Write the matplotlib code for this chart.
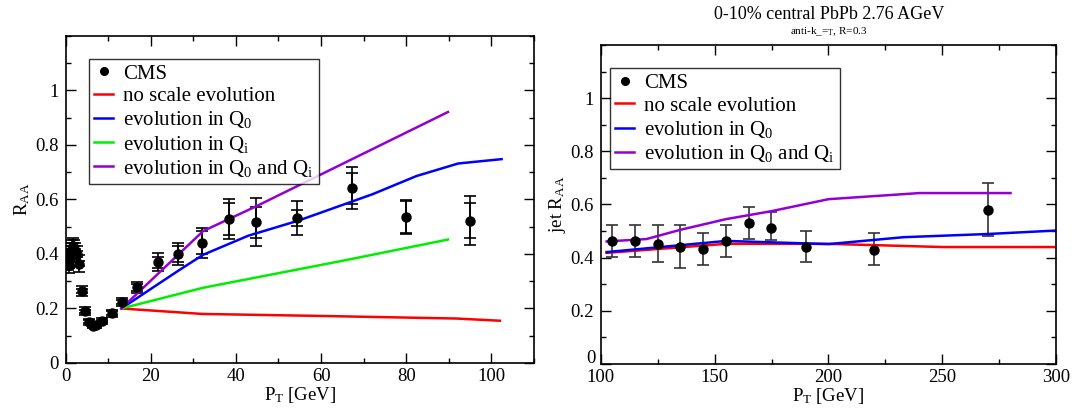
import numpy as np
import matplotlib
matplotlib.use("Agg")
import matplotlib.pyplot as plt
from matplotlib.lines import Line2D

plt.rcParams['font.family'] = ['Liberation Serif', 'DejaVu Serif']
plt.rcParams['mathtext.fontset'] = 'custom'
plt.rcParams['mathtext.rm'] = 'Liberation Serif'
plt.rcParams['mathtext.it'] = 'Liberation Serif:italic'

# left panel: charged hadron R_AA, CMS data
cms_pt = [0.5, 0.7, 0.9, 1.1, 1.3, 1.5, 1.7, 1.9, 2.2, 2.6, 3.2, 3.8, 4.5, 5.5, 6.4, 7.2,
          8.5, 10.8, 13.2, 16.7, 21.6, 26.3, 32.0, 38.4, 44.8, 54.3, 67.2, 79.9, 94.9]
cms_raa = [0.37, 0.36, 0.38, 0.40, 0.41, 0.42, 0.43, 0.42, 0.41, 0.40, 0.365, 0.265, 0.19,
           0.151, 0.137, 0.139, 0.154, 0.183, 0.224, 0.277, 0.369, 0.401, 0.441, 0.528,
           0.517, 0.532, 0.641, 0.536, 0.522]
cms_syst = [0.03, 0.03, 0.03, 0.03, 0.03, 0.03, 0.03, 0.03, 0.03, 0.03, 0.03, 0.018, 0.014,
            0.011, 0.010, 0.010, 0.011, 0.013, 0.016, 0.020, 0.033, 0.040, 0.055, 0.073,
            0.088, 0.062, 0.077, 0.063, 0.090]
cms_stat = [0.01, 0.01, 0.01, 0.01, 0.01, 0.01, 0.01, 0.01, 0.01, 0.01, 0.01, 0.008, 0.006,
            0.005, 0.005, 0.005, 0.005, 0.006, 0.008, 0.012, 0.020, 0.030, 0.042, 0.058,
            0.057, 0.029, 0.056, 0.058, 0.064]

red_pt = [13.1, 32.0, 62.0, 92.0, 102.0]
red_raa = [0.200, 0.180, 0.172, 0.163, 0.155]
blue_pt = [13.1, 26.9, 32.3, 42.9, 54.6, 67.2, 72.2, 82.4, 92.2, 102.4]
blue_raa = [0.200, 0.343, 0.397, 0.467, 0.522, 0.592, 0.620, 0.686, 0.732, 0.748]
green_pt = [13.1, 32.3, 66.0, 89.8]
green_raa = [0.200, 0.276, 0.378, 0.453]
purple_pt = [13.1, 32.3, 44.9, 89.8]
purple_raa = [0.200, 0.484, 0.576, 0.921]

# right panel: jet R_AA
jet_pt = [104.8, 115.1, 124.9, 134.9, 145.0, 154.8, 164.9, 174.9, 190.0, 219.8, 270.0]
jet_raa = [0.461, 0.461, 0.452, 0.440, 0.431, 0.461, 0.531, 0.511, 0.440, 0.430, 0.581]
jet_err_up = [0.060, 0.060, 0.069, 0.081, 0.060, 0.060, 0.059, 0.060, 0.061, 0.061, 0.101]
jet_err_dn = [0.058, 0.058, 0.070, 0.078, 0.060, 0.058, 0.060, 0.045, 0.058, 0.059, 0.098]

jred_pt = [102.5, 155.0, 200.0, 250.0, 300.0]
jred_raa = [0.418, 0.452, 0.452, 0.440, 0.440]
jblue_pt = [102.5, 155.0, 200.0, 233.0, 270.0, 300.0]
jblue_raa = [0.421, 0.463, 0.451, 0.477, 0.489, 0.502]
jpurple_pt = [102.5, 120.0, 135.0, 155.0, 175.0, 200.0, 240.0, 280.0]
jpurple_raa = [0.461, 0.470, 0.505, 0.545, 0.575, 0.620, 0.643, 0.643]

RED = '#ff0000'
BLUE = '#0000ff'
GREEN = '#00ee00'
PURPLE = '#9400d3'
FS = 13.5
LFS = 15

fig = plt.figure(figsize=(10.77, 4.12), dpi=100)
ax1 = fig.add_axes([0.0609, 0.119, 0.4349, 0.7937])
ax2 = fig.add_axes([0.558, 0.1165, 0.4225, 0.7743])


def style_axes(ax):
    ax.tick_params(which='both', direction='in', top=True, right=True, labelsize=FS)
    ax.tick_params(which='major', length=7, width=1)
    ax.tick_params(which='minor', length=3.5, width=1)
    ax.tick_params(axis='y', pad=5)
    for s in ax.spines.values():
        s.set_linewidth(1.2)


# left
ax1.errorbar(cms_pt, cms_raa, yerr=cms_syst, fmt='none', ecolor='black', elinewidth=1.2,
             capsize=4, capthick=1.2)
ax1.errorbar(cms_pt, cms_raa, yerr=cms_stat, fmt='o', color='black', ms=6.5,
             ecolor='black', elinewidth=1.2, capsize=4, capthick=1.2)
ax1.plot(red_pt, red_raa, color=RED, lw=1.8)
ax1.plot(blue_pt, blue_raa, color=BLUE, lw=1.8)
ax1.plot(green_pt, green_raa, color=GREEN, lw=1.8)
ax1.plot(purple_pt, purple_raa, color=PURPLE, lw=1.8)
ax1.set_xlim(0, 110)
ax1.set_ylim(0, 1.2)
ax1.set_xticks(np.arange(0, 101, 20))
ax1.set_xticks(np.arange(0, 111, 10), minor=True)
ax1.set_yticks([0, 0.2, 0.4, 0.6, 0.8, 1])
ax1.set_yticklabels(['0', '0.2', '0.4', '0.6', '0.8', '1'])
ax1.set_yticks(np.arange(0, 1.21, 0.1), minor=True)
ax1.set_xlabel(r'P$_\mathrm{T}$ [GeV]', fontsize=FS, labelpad=0)
ax1.set_ylabel(r'R$_\mathrm{AA}$', fontsize=FS, labelpad=2)
style_axes(ax1)

h_cms = Line2D([], [], marker='o', color='black', ls='none', ms=5.5)
h_red = Line2D([], [], color=RED, lw=1.8)
h_blue = Line2D([], [], color=BLUE, lw=1.8)
h_green = Line2D([], [], color=GREEN, lw=1.8)
h_purple = Line2D([], [], color=PURPLE, lw=1.8)
leg1 = ax1.legend([h_cms, h_red, h_blue, h_green, h_purple],
                  ['CMS', 'no scale evolution', r'evolution in Q$_\mathrm{0}$',
                   r'evolution in Q$_\mathrm{i}$', r'evolution in Q$_\mathrm{0}$ and Q$_\mathrm{i}$'],
                  loc='upper left', bbox_to_anchor=(0.05, 0.93), borderaxespad=0,
                  fontsize=LFS, frameon=True, fancybox=False, handlelength=0.9,
                  handletextpad=0.5, labelspacing=0.15, borderpad=0.25)
leg1.get_frame().set_edgecolor('black')
leg1.get_frame().set_linewidth(1.0)

# right
ax2.errorbar(jet_pt, jet_raa, yerr=[jet_err_dn, jet_err_up], fmt='o', color='black', ms=6.5,
             ecolor='0.2', elinewidth=1.2, capsize=4, capthick=1.2)
ax2.plot(jred_pt, jred_raa, color=RED, lw=1.8)
ax2.plot(jblue_pt, jblue_raa, color=BLUE, lw=1.8)
ax2.plot(jpurple_pt, jpurple_raa, color=PURPLE, lw=1.8)
ax2.set_xlim(100, 300)
ax2.set_ylim(0, 1.2)
ax2.set_xticks(np.arange(100, 301, 50))
ax2.set_xticks(np.arange(100, 301, 25), minor=True)
ax2.set_yticks([0, 0.2, 0.4, 0.6, 0.8, 1])
ax2.set_yticklabels(['', '0.2', '0.4', '0.6', '0.8', '1'])
ax2.set_yticks(np.arange(0, 1.21, 0.1), minor=True)
ax2.set_xlabel(r'P$_\mathrm{T}$ [GeV]', fontsize=FS, labelpad=0)
ax2.set_ylabel(r'jet R$_\mathrm{AA}$', fontsize=FS, labelpad=2)
style_axes(ax2)
ax2.text(-0.012, -0.008, '0', transform=ax2.transAxes, ha='right', va='bottom', fontsize=FS)

leg2 = ax2.legend([h_cms, h_red, h_blue, h_purple],
                  ['CMS', 'no scale evolution', r'evolution in Q$_\mathrm{0}$',
                   r'evolution in Q$_\mathrm{0}$ and Q$_\mathrm{i}$'],
                  loc='upper left', bbox_to_anchor=(0.02, 0.927), borderaxespad=0,
                  fontsize=LFS, frameon=True, fancybox=False, handlelength=0.9,
                  handletextpad=0.5, labelspacing=0.15, borderpad=0.25)
leg2.get_frame().set_edgecolor('black')
leg2.get_frame().set_linewidth(1.0)

fig.text(0.7695, 0.965, '0-10% central PbPb 2.76 AGeV', ha='center', va='center', fontsize=13)
fig.text(0.7695, 0.922, r'anti-k_=$_\mathrm{T}$, R=0.3', ha='center', va='center', fontsize=8)

fig.savefig('out.png', dpi=100)
plt.close(fig)
